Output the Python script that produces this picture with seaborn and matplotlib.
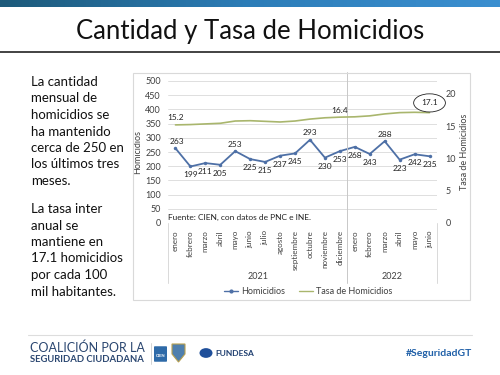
import numpy as np
import pandas as pd
import seaborn as sns
import matplotlib.pyplot as plt
from matplotlib.lines import Line2D
from matplotlib.patches import Rectangle, FancyBboxPatch, Circle, Polygon
from matplotlib.colors import LinearSegmentedColormap

meses = ["enero", "febrero", "marzo", "abril", "mayo", "junio", "julio", "agosto",
         "septiembre", "octubre", "noviembre", "diciembre",
         "enero", "febrero", "marzo", "abril", "mayo", "junio"]
anios = ["2021"] * 12 + ["2022"] * 6
homicidios = [263, 199, 211, 205, 253, 225, 215, 237, 245, 293, 230, 253,
              268, 243, 288, 223, 242, 235]
tasa = [15.2, 15.25, 15.35, 15.45, 15.8, 15.85, 15.75, 15.65, 15.8, 16.1, 16.3, 16.4,
        16.45, 16.6, 16.9, 17.1, 17.15, 17.1]
etiquetas_arriba = [0, 4, 9, 14]
tasa_etiquetas = [0, 11, 17]

df = pd.DataFrame({"idx": range(len(meses)), "mes": meses, "anio": anios,
                   "Homicidios": homicidios, "Tasa de Homicidios": tasa})

sns.set_style("white")
plt.rcParams["font.family"] = ["Lato", "DejaVu Sans"]

azul = "#4e70a6"
verde = "#a9b66d"
gris_txt = "#404040"

fig = plt.figure(figsize=(5, 3.75), dpi=100)

# banda superior
band = fig.add_axes([0, 1 - 7 / 375, 1, 7 / 375])
grad = np.linspace(0, 1, 256).reshape(1, -1)
cmap = LinearSegmentedColormap.from_list("b", ["#1d5a7a", "#2c7db8", "#3b8fd0"])
band.imshow(grad, aspect="auto", cmap=cmap)
band.axis("off")

# titulo
fig.text(0.5, 1 - 32 / 375, "Cantidad y Tasa de Homicidios", ha="center", va="center",
         fontsize=18.5, color="#111111")
fig.add_artist(Line2D([0, 1], [1 - 52 / 375] * 2, color="#222222", lw=1.2))

# texto izquierdo
fig.text(31 / 500, 1 - 76 / 375,
         "La cantidad\nmensual de\nhomicidios se\nha mantenido\ncerca de 250 en\nlos últimos tres\nmeses.",
         ha="left", va="top", fontsize=9.5, linespacing=1.45, color="#111111")
fig.text(31 / 500, 1 - 203 / 375,
         "La tasa inter\nanual se\nmantiene en\n17.1 homicidios\npor cada 100\nmil habitantes.",
         ha="left", va="top", fontsize=9.5, linespacing=1.45, color="#111111")

# marco del grafico
fig.add_artist(Rectangle((133 / 500, 1 - 300 / 375), 337 / 500, 227 / 375,
                         transform=fig.transFigure, fill=False, ec="#d9d9d9", lw=0.8))

ax = fig.add_axes([168 / 500, 1 - 223 / 375, 269 / 500, 142 / 375])
sns.lineplot(data=df, x="idx", y="Homicidios", ax=ax, color=azul, lw=1.3,
             marker="o", markersize=2.5, markeredgewidth=0)
ax.set_xlim(-0.5, len(meses) - 0.5)
ax.set_ylim(0, 500)
ax.set_yticks(range(0, 501, 50))
ax.yaxis.grid(True, color="#d9d9d9", lw=0.6)
ax.set_axisbelow(True)
for s in ax.spines.values():
    s.set_visible(False)
ax.set_xticks(df["idx"])
ax.set_xticklabels(meses, rotation=90, fontsize=5.8, color=gris_txt)
ax.tick_params(axis="x", length=0, pad=5)
ax.tick_params(axis="y", length=0, labelsize=6.5, labelcolor=gris_txt, pad=5)
ax.set_xlabel("")
ax.set_ylabel("Homicidios", fontsize=6.5, color=gris_txt, labelpad=2)

for i, v in enumerate(homicidios):
    dy = 5 if i in etiquetas_arriba else -6
    ax.annotate(str(v), (i, v), xytext=(1 if i == 0 else 0, dy), textcoords="offset points",
                ha="center", va="center", fontsize=6, color="#222222")

ax2 = ax.twinx()
sns.lineplot(data=df, x="idx", y="Tasa de Homicidios", ax=ax2, color=verde, lw=1.2)
ax2.set_ylim(0, 22)
ax2.set_yticks(range(0, 21, 5))
ax2.tick_params(axis="y", length=0, labelsize=6.5, labelcolor=gris_txt, pad=6)
ax2.set_ylabel("Tasa de Homicidios", fontsize=6.5, color=gris_txt, labelpad=3)
ax2.set_xlim(-0.5, len(meses) - 0.5)
for s in ax2.spines.values():
    s.set_visible(False)

for i in tasa_etiquetas:
    if i == len(tasa) - 1:
        ax2.annotate(f"{tasa[i]:.1f}", (i, tasa[i]), xytext=(0, 7), textcoords="offset points",
                     ha="center", va="center", fontsize=6, color="#222222",
                     bbox=dict(boxstyle="ellipse,pad=0.35", fc="white", ec="#222222", lw=0.6))
    else:
        ax2.annotate(f"{tasa[i]:.1f}", (i, tasa[i]), xytext=(0, 5), textcoords="offset points",
                     ha="center", va="center", fontsize=6, color="#222222")

# separadores y anios
tr = ax.get_xaxis_transform()
n21 = anios.count("2021")
ax.plot([n21 - 0.5] * 2, [-0.42, 1.06], transform=tr, color="#c8c8c8", lw=0.7, clip_on=False)
for xx in [-0.5, len(meses) - 0.5]:
    ax.plot([xx] * 2, [0, -0.42], transform=tr, color="#d9d9d9", lw=0.7, clip_on=False)
for a in ["2021", "2022"]:
    sub = df[df["anio"] == a]["idx"]
    ax.text(sub.mean(), -0.38, a, transform=tr, ha="center", va="center",
            fontsize=6.5, color=gris_txt)

ax.text(0.0, 0.04, "Fuente: CIEN, con datos de PNC e INE.", transform=ax.transAxes,
        ha="left", va="center", fontsize=6, color="#222222")

handles = [Line2D([], [], color=azul, lw=1, marker="o", markersize=2),
           Line2D([], [], color=verde, lw=1)]
fig.legend(handles, ["Homicidios", "Tasa de Homicidios"], loc="center",
           bbox_to_anchor=(308 / 500, 1 - 292 / 375), ncol=2, frameon=False,
           fontsize=6.5, handlelength=1.6, handletextpad=0.3, columnspacing=1.5,
           labelcolor=gris_txt)

# pie de pagina
fig.add_artist(Line2D([28 / 500, 472 / 500], [1 - 335 / 375] * 2, color="#dddddd", lw=0.8))
fig.text(30 / 500, 1 - 348 / 375, "COALICIÓN POR LA", fontsize=9, color="#2a4670",
         va="center", ha="left")
fig.text(30 / 500, 1 - 359 / 375, "SEGURIDAD CIUDADANA", fontsize=6.8, color="#2a4670",
         va="center", ha="left", fontweight="bold")
fig.add_artist(Line2D([151 / 500] * 2, [1 - 343 / 375, 1 - 364 / 375], color="#cccccc", lw=0.6))
fig.add_artist(FancyBboxPatch((155 / 500, 1 - 361 / 375), 11 / 500, 14 / 375,
                              boxstyle="round,pad=0.002", transform=fig.transFigure,
                              fc="#2e6aa8", ec="none"))
fig.text(160.5 / 500, 1 - 356 / 375, "CIEN", fontsize=3, color="white", ha="center",
         va="center", fontweight="bold")
fig.add_artist(Polygon([(172 / 500, 1 - 344 / 375), (185 / 500, 1 - 344 / 375),
                        (185 / 500, 1 - 354 / 375), (178.5 / 500, 1 - 362 / 375),
                        (172 / 500, 1 - 354 / 375)], closed=True, transform=fig.transFigure,
                       fc="#4f7fae", ec="#b8a050", lw=0.8))
fig.add_artist(Circle((206 / 500, 1 - 353 / 375), 6.5 / 500, transform=fig.transFigure,
                      fc="#1f4f9a", ec="none"))
fig.text(215 / 500, 1 - 353 / 375, "FUNDESA", fontsize=6, color="#1f3f70", ha="left",
         va="center", fontweight="bold")
fig.text(472 / 500, 1 - 354 / 375, "#SeguridadGT", fontsize=7.5, color="#2060a8",
         ha="right", va="center", fontweight="bold")

fig.savefig("out.png", dpi=100)
